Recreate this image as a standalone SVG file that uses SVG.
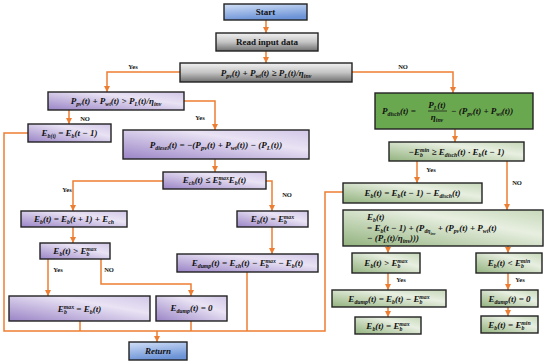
<svg xmlns="http://www.w3.org/2000/svg" width="550" height="364" viewBox="0 0 550 364">
<defs>
<linearGradient id="gBlue" x1="0" y1="0" x2="0.3" y2="1"><stop offset="0" stop-color="#d2e0f7"/><stop offset="1" stop-color="#6c93d6"/></linearGradient>
<linearGradient id="gGray" x1="0" y1="0" x2="0" y2="1"><stop offset="0" stop-color="#f2f2f2"/><stop offset="0.5" stop-color="#c4c4c4"/><stop offset="1" stop-color="#6f6f6f"/></linearGradient>
<linearGradient id="gPur" x1="0" y1="1" x2="1" y2="0"><stop offset="0" stop-color="#9a84c6"/><stop offset="0.65" stop-color="#e9e3f4"/><stop offset="1" stop-color="#d2c7e8"/></linearGradient>
<linearGradient id="gGrn" x1="0" y1="1" x2="1" y2="0"><stop offset="0" stop-color="#93b37f"/><stop offset="0.65" stop-color="#e8efe1"/><stop offset="1" stop-color="#c6d8b9"/></linearGradient>
<marker id="ah" viewBox="0 0 6 6" refX="6" refY="3" markerWidth="6" markerHeight="6" markerUnits="userSpaceOnUse" orient="auto"><path d="M0,0 L6,3 L0,6 z" fill="#ed7d31"/></marker>
</defs>
<style>
.c{fill:none;stroke:#ed7d31;stroke-width:1.5}
.a{marker-end:url(#ah)}
.bx{stroke:#222;stroke-width:1.4}
.blue{fill:url(#gBlue)}
.gray{fill:url(#gGray)}
.pur{fill:url(#gPur)}
.grn{fill:url(#gGrn)}
.dg{fill:#6aa84f}
.t{font-family:"Liberation Serif",serif;font-weight:bold;font-style:italic;font-size:9px;fill:#111;text-anchor:middle}
.n{font-family:"Liberation Serif",serif;font-weight:bold;font-size:9px;fill:#111;text-anchor:middle}
.l{font-family:"Liberation Serif",serif;font-weight:bold;font-size:6.5px;fill:#111;text-anchor:middle}
.s{font-size:5.8px}
.st{text-anchor:start}
</style>
<g id="connectors">
<path class="c a" d="M266,20 V33"/>
<path class="c a" d="M266,51 V63"/>
<path class="c a" d="M180,72 H107 V92"/>
<path class="c a" d="M352,72 H453 V93"/>
<path class="c a" d="M184,101 H215 V130"/>
<path class="c a" d="M69,110 V124"/>
<path class="c" d="M28,133 H4 V331 H325 V192 H343"/>
<path class="c a" d="M215,159 V172"/>
<path class="c a" d="M163,181 H73 V211"/>
<path class="c a" d="M266,181 H272 V211"/>
<path class="c a" d="M73,227 V243"/>
<path class="c a" d="M272,227 V254"/>
<path class="c a" d="M48,259 V296"/>
<path class="c a" d="M101,259 V284 H191 V296"/>
<path class="c" d="M80,321 V331"/>
<path class="c" d="M191,321 V331"/>
<path class="c" d="M247,272 V331"/>
<path class="c a" d="M157,331 V342"/>
<path class="c a" d="M455,129 V142"/>
<path class="c a" d="M417,161 V183"/>
<path class="c a" d="M507,161 V210"/>
<path class="c a" d="M388,246 V253"/>
<path class="c a" d="M508,246 V253"/>
<path class="c a" d="M388,273 V290"/>
<path class="c a" d="M388,307 V317"/>
<path class="c a" d="M508,273 V290"/>
<path class="c a" d="M508,307 V316"/>
<text class="l" x="133" y="69">Yes</text>
<text class="l" x="403" y="69">NO</text>
<text class="l" x="85" y="121">NO</text>
<text class="l" x="200" y="120">Yes</text>
<text class="l" x="67" y="192">Yes</text>
<text class="l" x="287" y="197">NO</text>
<text class="l" x="58" y="272">Yes</text>
<text class="l" x="109" y="272">NO</text>
<text class="l" x="431" y="172">Yes</text>
<text class="l" x="517" y="185">NO</text>
<text class="l" x="401" y="282">Yes</text>
<text class="l" x="520" y="282">Yes</text>
</g>
<g id="start"><rect class="bx blue" x="224" y="4" width="83" height="16"/><text class="n" x="265.5" y="15">Start</text></g>
<g id="read"><rect class="bx gray" x="216" y="33" width="102" height="18"/><text class="n" x="267" y="45">Read input data</text></g>
<g id="cond1"><rect class="bx gray" x="180" y="63" width="172" height="19"/><text class="t" x="266" y="75.5">P<tspan class="s" baseline-shift="-2">pv</tspan>(t) + P<tspan class="s" baseline-shift="-2">wt</tspan>(t) ≥ P<tspan class="s" baseline-shift="-2">L</tspan>(t)/η<tspan class="s" baseline-shift="-2">inv</tspan></text></g>
<g id="cond2"><rect class="bx pur" x="48" y="92" width="136" height="18"/><text class="t" x="116" y="104">P<tspan class="s" baseline-shift="-2">pv</tspan>(t) + P<tspan class="s" baseline-shift="-2">wt</tspan>(t) &gt; P<tspan class="s" baseline-shift="-2">L</tspan>(t)/η<tspan class="s" baseline-shift="-2">inv</tspan></text></g>
<g id="ebprev"><rect class="bx pur" x="28" y="124" width="83" height="18"/><text class="t" x="69.5" y="136">E<tspan class="s" baseline-shift="-2">b(t)</tspan> = E<tspan class="s" baseline-shift="-2">b</tspan>(t − 1)</text></g>
<g id="pdiesel"><rect class="bx pur" x="123" y="130" width="186" height="29"/><text class="t" x="216" y="148" font-size="10.5px">P<tspan class="s" baseline-shift="-2" font-size="6.5px">diesel</tspan>(t) = −(P<tspan baseline-shift="-2" font-size="6.5px">pv</tspan>(t) + P<tspan baseline-shift="-2" font-size="6.5px">wt</tspan>(t)) − (P<tspan baseline-shift="-2" font-size="6.5px">L</tspan>(t))</text></g>
<g id="ech"><rect class="bx pur" x="163" y="172" width="103" height="17"/><text class="t" x="214.5" y="183">E<tspan class="s" baseline-shift="-2">ch</tspan>(t) ≤ E<tspan class="s" baseline-shift="-2">b</tspan><tspan class="s" dx="-3" baseline-shift="3.5">max</tspan>E<tspan class="s" baseline-shift="-2">b</tspan>(t)</text></g>
<g id="ebch"><rect class="bx pur" x="21" y="211" width="106" height="16"/><text class="t" x="74" y="222">E<tspan class="s" baseline-shift="-2">b</tspan>(t) = E<tspan class="s" baseline-shift="-2">b</tspan>(t + 1) + E<tspan class="s" baseline-shift="-2">ch</tspan></text></g>
<g id="ebmax1"><rect class="bx pur" x="237" y="211" width="71" height="16"/><text class="t" x="272.5" y="222">E<tspan class="s" baseline-shift="-2">b</tspan>(t) = E<tspan class="s" baseline-shift="-2">b</tspan><tspan class="s" dx="-3" baseline-shift="3.5">max</tspan></text></g>
<g id="ebgt1"><rect class="bx pur" x="40" y="243" width="70" height="16"/><text class="t" x="75" y="254">E<tspan class="s" baseline-shift="-2">b</tspan>(t) &gt; E<tspan class="s" baseline-shift="-2">b</tspan><tspan class="s" dx="-3" baseline-shift="3.5">max</tspan></text></g>
<g id="edump1"><rect class="bx pur" x="177" y="254" width="141" height="18"/><text class="t" x="247.5" y="266" font-size="8.5px">E<tspan class="s" baseline-shift="-2">dump</tspan>(t) = E<tspan class="s" baseline-shift="-2">ch</tspan>(t) − E<tspan class="s" baseline-shift="-2">b</tspan><tspan class="s" dx="-3" baseline-shift="3.5">max</tspan> − E<tspan class="s" baseline-shift="-2">b</tspan>(t)</text></g>
<g id="ebmaxeq"><rect class="bx pur" x="9" y="296" width="141" height="25"/><text class="t" x="79.5" y="311.5">E<tspan class="s" baseline-shift="-2">b</tspan><tspan class="s" dx="-3" baseline-shift="3.5">max</tspan> = E<tspan class="s" baseline-shift="-2">b</tspan>(t)</text></g>
<g id="edump0"><rect class="bx pur" x="156" y="296" width="71" height="25"/><text class="t" x="191.5" y="311">E<tspan class="s" baseline-shift="-2">dump</tspan>(t) = 0</text></g>
<g id="return"><rect class="bx blue" x="129" y="342" width="58" height="18"/><text class="t" x="158" y="354">Return</text></g>
<g id="pdisch"><rect class="bx dg" x="375" y="93" width="158" height="36"/>
<text class="t st" x="382" y="114">P<tspan class="s" baseline-shift="-2">disch</tspan>(t) =</text>
<text class="t" x="437" y="107.5">P<tspan class="s" baseline-shift="-2">L</tspan>(t)</text>
<line x1="428" y1="111" x2="447" y2="111" stroke="#111" stroke-width="0.7"/>
<text class="t" x="437" y="119.5">η<tspan class="s" baseline-shift="-2">inv</tspan></text>
<text class="t st" x="451" y="114">− (P<tspan class="s" baseline-shift="-2">pv</tspan>(t) + P<tspan class="s" baseline-shift="-2">wt</tspan>(t))</text></g>
<g id="emin"><rect class="bx grn" x="389" y="142" width="135" height="19"/><text class="t" x="456.5" y="154.5">−E<tspan class="s" baseline-shift="-2">b</tspan><tspan class="s" dx="-3" baseline-shift="3.5">min</tspan> ≥ E<tspan class="s" baseline-shift="-2">disch</tspan>(t) · E<tspan class="s" baseline-shift="-2">b</tspan>(t − 1)</text></g>
<g id="ebdisch"><rect class="bx grn" x="343" y="183" width="139" height="20"/><text class="t" x="412.5" y="196">E<tspan class="s" baseline-shift="-2">b</tspan>(t) = E<tspan class="s" baseline-shift="-2">b</tspan>(t − 1) − E<tspan class="s" baseline-shift="-2">disch</tspan>(t)</text></g>
<g id="ebbig"><rect class="bx grn" x="343" y="210" width="200" height="36"/>
<text class="t st" x="367" y="219.5">E<tspan class="s" baseline-shift="-2">b</tspan>(t)</text>
<text class="t st" x="367" y="230.5">= E<tspan class="s" baseline-shift="-2">b</tspan>(t − 1) + (P<tspan class="s" baseline-shift="-2">dη<tspan font-size="4px" baseline-shift="-1.5">inv</tspan></tspan> + (P<tspan class="s" baseline-shift="-2">pv</tspan>(t) + P<tspan class="s" baseline-shift="-2">wt</tspan>(t)</text>
<text class="t st" x="367" y="240.5">− (P<tspan class="s" baseline-shift="-2">L</tspan>(t)/η<tspan class="s" baseline-shift="-2">inv</tspan>)))</text></g>
<g id="ebgt2"><rect class="bx grn" x="352" y="253" width="68" height="20"/><text class="t" x="386" y="266">E<tspan class="s" baseline-shift="-2">b</tspan>(t) &gt; E<tspan class="s" baseline-shift="-2">b</tspan><tspan class="s" dx="-3" baseline-shift="3.5">max</tspan></text></g>
<g id="eblt2"><rect class="bx grn" x="476" y="253" width="66" height="20"/><text class="t" x="509" y="266">E<tspan class="s" baseline-shift="-2">b</tspan>(t) &lt; E<tspan class="s" baseline-shift="-2">b</tspan><tspan class="s" dx="-3" baseline-shift="3.5">min</tspan></text></g>
<g id="edump2"><rect class="bx grn" x="332" y="290" width="114" height="17"/><text class="t" x="389" y="301.5">E<tspan class="s" baseline-shift="-2">dump</tspan>(t) = E<tspan class="s" baseline-shift="-2">b</tspan>(t) − E<tspan class="s" baseline-shift="-2">b</tspan><tspan class="s" dx="-3" baseline-shift="3.5">max</tspan></text></g>
<g id="ebmax2"><rect class="bx grn" x="355" y="317" width="66" height="17"/><text class="t" x="388" y="328.5">E<tspan class="s" baseline-shift="-2">b</tspan>(t) = E<tspan class="s" baseline-shift="-2">b</tspan><tspan class="s" dx="-3" baseline-shift="3.5">max</tspan></text></g>
<g id="edump02"><rect class="bx grn" x="481" y="290" width="57" height="17"/><text class="t" x="509.5" y="301.5">E<tspan class="s" baseline-shift="-2">dump</tspan>(t) = 0</text></g>
<g id="ebmin2"><rect class="bx grn" x="481" y="316" width="57" height="17"/><text class="t" x="509.5" y="327.5">E<tspan class="s" baseline-shift="-2">b</tspan>(t) = E<tspan class="s" baseline-shift="-2">b</tspan><tspan class="s" dx="-3" baseline-shift="3.5">min</tspan></text></g>
</svg>
